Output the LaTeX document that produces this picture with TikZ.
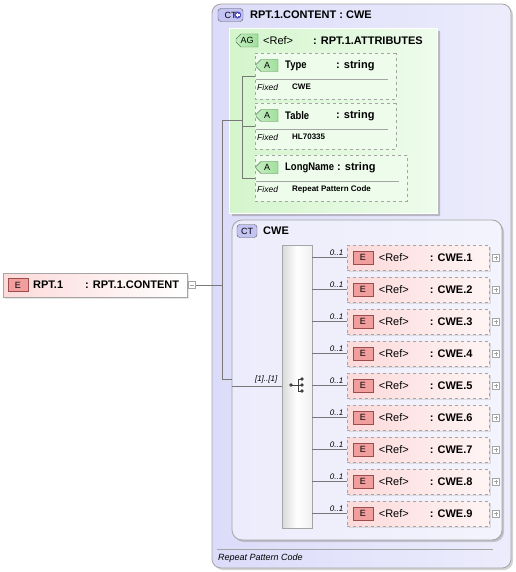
\documentclass[tikz,border=0pt]{standalone}
\usepackage{fontspec}
\setmainfont{Liberation Sans}
\usetikzlibrary{positioning,shapes.misc,shadows,calc}

\definecolor{ctfill}{RGB}{220,220,250}
\definecolor{ctfillb}{RGB}{236,236,252}
\definecolor{agfill}{RGB}{212,245,204}
\definecolor{attfill}{RGB}{238,252,236}
\definecolor{elfill}{RGB}{252,218,218}
\definecolor{ebadge}{RGB}{240,158,158}
\definecolor{abadge}{RGB}{160,224,155}
\definecolor{ctbadge}{RGB}{196,196,244}
\definecolor{plusfill}{RGB}{80,80,190}
\definecolor{linecol}{RGB}{120,120,120}
\definecolor{boxline}{RGB}{165,165,165}

\tikzset{
  conn/.style={draw=linecol, line width=0.7pt},
  ctbox/.style={draw=boxline, line width=0.8pt, rounded corners=9pt, left color=ctfill, right color=ctfillb, inner sep=0pt,
    drop shadow={shadow xshift=2pt, shadow yshift=-2pt, opacity=.35}},
  agbox/.style={chamfered rectangle, chamfered rectangle corners=north west, chamfered rectangle xsep=10pt, chamfered rectangle ysep=10pt,
    draw=white, line width=0.8pt, left color=agfill, right color=attfill, inner sep=0pt,
    drop shadow={shadow xshift=3pt, shadow yshift=-3pt, opacity=.45}},
  attbox/.style={chamfered rectangle, chamfered rectangle corners={north west,south west}, chamfered rectangle xsep=7pt, chamfered rectangle ysep=7pt,
    draw=boxline, dashed, line width=0.7pt, fill=attfill, inner sep=0pt, minimum height=46pt},
  elbox/.style={draw=boxline, line width=0.7pt, left color=elfill, right color=elfill!30, inner sep=0pt,
    drop shadow={shadow xshift=1.5pt, shadow yshift=-1.5pt, opacity=.2}},
  ebadge/.style={draw=red!45!black!70, fill=ebadge, minimum width=20pt, minimum height=13pt, inner sep=0pt, font=\fontsize{9}{9}\selectfont},
  abadge/.style={chamfered rectangle, chamfered rectangle corners={north west,south west}, chamfered rectangle xsep=2.5pt, chamfered rectangle ysep=2.5pt,
    draw=green!30!black!70, left color=abadge!60!white, right color=abadge,
    minimum width=22pt, minimum height=12pt, inner sep=0pt, font=\fontsize{9}{9}\selectfont},
  ctbadgestyle/.style={draw=black!65, fill=ctbadge, rounded corners=3pt, minimum height=13pt, inner sep=0pt, font=\fontsize{9}{9}\selectfont},
  pmbox/.style={draw=boxline, fill=white, minimum width=7pt, minimum height=7pt, inner sep=0pt},
  bold/.style={anchor=west, inner sep=0pt, font=\fontsize{11}{12}\selectfont\bfseries},
  plain/.style={anchor=west, inner sep=0pt, font=\fontsize{11}{12}\selectfont},
  small/.style={anchor=west, inner sep=0pt, font=\fontsize{8.5}{9}\selectfont\itshape},
  tiny/.style={anchor=west, inner sep=0pt, font=\fontsize{8}{9}\selectfont\bfseries},
  card/.style={inner sep=1pt, font=\fontsize{8}{9}\selectfont\itshape},
}

\begin{document}
\begin{tikzpicture}[x=1pt,y=-1pt]
\useasboundingbox (0,0) rectangle (515,572);

% complex type RPT.1.CONTENT
\node[ctbox, minimum width=299pt, minimum height=564pt] (ct) at (361.5,286) {};
\node[ctbadgestyle, minimum width=25pt] (ctB) at (230.5,15) {CT\hspace{11pt}};
\fill[plusfill] ([xshift=-5.5pt]ctB.east) circle (3.6pt);
\draw[white, line width=1.1pt] ([xshift=-7.7pt]ctB.east) -- ([xshift=-3.3pt]ctB.east)
  ([xshift=-5.5pt,yshift=2.2pt]ctB.east) -- ([xshift=-5.5pt,yshift=-2.2pt]ctB.east);
\node[bold] (ctT) at (250,15) {RPT.1.CONTENT : CWE};

% attribute group
\node[agbox, minimum width=208pt, minimum height=185pt] (ag) at (333,120.5) {};
\node[abadge, minimum width=22pt, minimum height=13pt] (agB) at (247,40.5) {AG};
\node[plain] (agRef) at (263,40.5) {<Ref>};
\node[bold] (agT) at (313,40.5) {: RPT.1.ATTRIBUTES};

\foreach \nm/\tp/\bw/\val/\cx [count=\i] in {Type/53/141/CWE/336, Table/103/141/HL70335/336, LongName/155/152/Repeat Pattern Code/337}{
  \pgfmathsetmacro\bx{255+\bw/2}
  \pgfmathsetmacro\bwy{\tp+23}
  \pgfmathsetmacro\hy{\tp+12.5}
  \pgfmathsetmacro\fy{\tp+34}
  \node[attbox, minimum width=\bw pt] (att\i) at (\bx,\bwy) {};
  \node[abadge] (att\i A) at (267,\hy) {A};
  \node[bold] (att\i N) at (285,\hy) {\scalebox{0.86}[1]{\nm}};
  \node[bold] (att\i T) at (\cx,\hy) {: string};
  \draw[boxline, line width=0.7pt] ([xshift=1pt,yshift=-3pt]att\i.west) -- ([xshift=-8pt,yshift=-3pt]att\i.east);
  \node[small] (att\i F) at (257,\fy) {Fixed};
  \node[tiny] (att\i V) at (292,\fy) {\val};
}

% attribute tree
\coordinate (agtree) at (242,120);
\draw[conn] (agtree |- att1.west) -- (agtree |- att3.west);
\foreach \i in {1,2,3}{
  \draw[conn] (agtree |- att\i.west) -- (att\i.west);
}

% complex type CWE
\node[ctbox, rounded corners=10pt, left color=ctfillb, right color=ctfillb!60!white, drop shadow={shadow xshift=1pt, shadow yshift=-1pt, opacity=.15},
  minimum width=270pt, minimum height=320pt] (cwe) at (367,380) {};
\node[ctbadgestyle, minimum width=20pt] (cweB) at (247,231) {CT};
\node[bold] (cweT) at (263,231) {CWE};

% sequence
\node[draw=boxline, line width=0.7pt, shading=axis, left color=gray!30, right color=gray!12, middle color=white,
  minimum width=30pt, minimum height=283pt] (seq) at (297,386.5) {};
\coordinate (seqdot) at (291,385);
\fill[black!75] (seqdot) circle (1.8pt);
\draw[black!75, line width=0.8pt] (seqdot) -- ++(7,0) ++(0,-6) -- ++(0,12)
  ++(0,0) -- ++(3,0) ++(-3,-6) -- ++(3,0) ++(-3,-6) -- ++(3,0);
\foreach \dy in {-6,0,6}{
  \fill[black!75] ([xshift=11pt,yshift=\dy pt]seqdot) circle (1.9pt);
}

% elements
\foreach \i in {1,...,9}{
  \pgfmathsetmacro\ey{257.5+32*(\i-1)}
  \node[elbox, dashed, minimum width=142pt, minimum height=25pt] (cwe\i) at (418,\ey) {};
  \node[ebadge, right=6pt of cwe\i.west] (cwe\i E) {E};
  \node[plain] (cwe\i R) at ([xshift=32pt]cwe\i.west) {<Ref>};
  \node[bold] (cwe\i T) at ([xshift=83pt]cwe\i.west) {: CWE.\i};
  \node[pmbox, right=3pt of cwe\i.east] (cwe\i P) {};
  \draw[boxline] ([xshift=-2pt]cwe\i P.center) -- ([xshift=2pt]cwe\i P.center)
    ([yshift=-2pt]cwe\i P.center) -- ([yshift=2pt]cwe\i P.center);
  \draw[conn] (seq.east |- cwe\i.west) -- (cwe\i.west)
    node[card, pos=1, anchor=south east, xshift=-2pt, yshift=1pt] {0..1};
}

% element RPT.1
\node[elbox, left color=elfill, right color=white, minimum width=184pt, minimum height=24pt] (rpt) at (95,285) {};
\node[ebadge, right=5pt of rpt.west] (rptE) {E};
\node[bold] (rptN) at (33,285) {RPT.1};
\node[bold] (rptT) at (85,285) {: RPT.1.CONTENT};
\node[pmbox, right=1pt of rpt.east] (rptP) {};
\draw[boxline] ([xshift=-2pt]rptP.center) -- ([xshift=2pt]rptP.center);

% trunk
\coordinate (trunk) at (222,285);
\draw[conn] (rptP.east) -- (trunk);
\draw[conn] (trunk |- agtree) -- (trunk |- 0,379);
\draw[conn] (trunk |- agtree) -- (agtree);
\draw[conn] (trunk |- 0,379) -- (cwe.west |- 0,379);
\draw[conn] (cwe.west |- seq.west) -- (seq.west)
  node[card, pos=1, anchor=south east, xshift=-3pt, yshift=2pt] {[1]..[1]};

% documentation
\draw[boxline, line width=0.7pt] (217,549) -- (493,549);
\node[small, font=\fontsize{9}{10}\selectfont\itshape] (doc) at (218,558) {Repeat Pattern Code};
\end{tikzpicture}
\end{document}
